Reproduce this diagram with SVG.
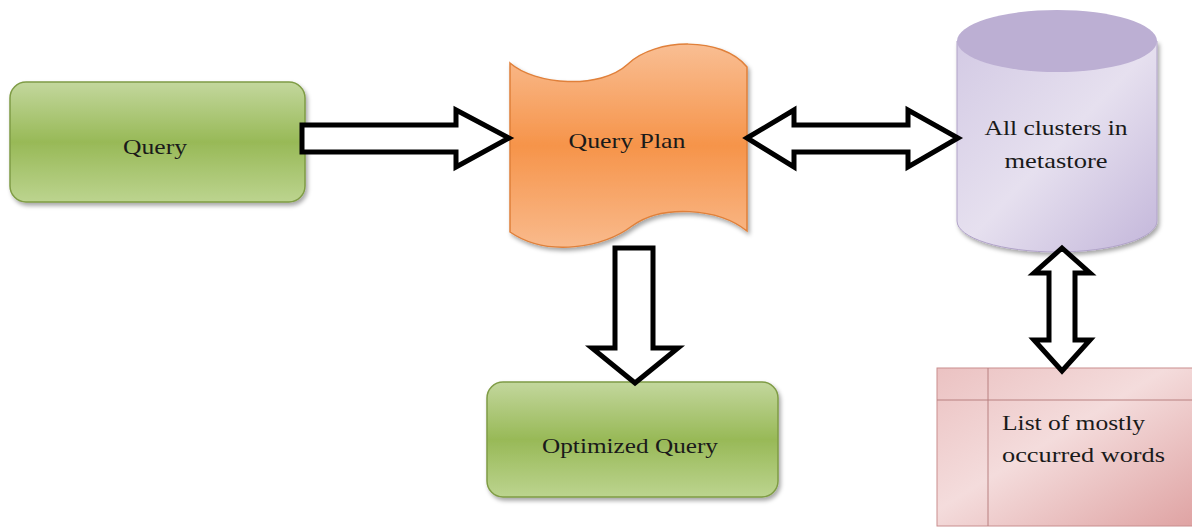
<svg xmlns="http://www.w3.org/2000/svg" width="1192" height="529" viewBox="0 0 1192 529">
<defs>
<linearGradient id="gGreen" x1="0" y1="0" x2="0" y2="1">
<stop offset="0" stop-color="#c3d79d"/>
<stop offset="0.5" stop-color="#98b957"/>
<stop offset="1" stop-color="#bcd48f"/>
</linearGradient>
<linearGradient id="gOrange" x1="0" y1="0" x2="0" y2="1">
<stop offset="0" stop-color="#f9be93"/>
<stop offset="0.5" stop-color="#f6944a"/>
<stop offset="1" stop-color="#f9ba8c"/>
</linearGradient>
<linearGradient id="gPurpleBody" x1="0" y1="0" x2="1" y2="1">
<stop offset="0" stop-color="#d3cae4"/>
<stop offset="0.5" stop-color="#e6e0ef"/>
<stop offset="1" stop-color="#c3b6da"/>
</linearGradient>
<linearGradient id="gPink" x1="0" y1="0" x2="1" y2="1">
<stop offset="0" stop-color="#ebc2c2"/>
<stop offset="0.45" stop-color="#f4dcdc"/>
<stop offset="1" stop-color="#dfa3a3"/>
</linearGradient>
<filter id="sh" x="-10%" y="-10%" width="120%" height="130%">
<feDropShadow dx="2" dy="3" stdDeviation="2" flood-color="#000" flood-opacity="0.35"/>
</filter>
</defs>
<style>
.lbl{font-family:"Liberation Serif","DejaVu Serif",serif;font-size:21px;fill:#1a1a1a}
.arrow{fill:#fff;stroke:#000;stroke-width:5;stroke-linejoin:miter}
.gbox{fill:url(#gGreen);stroke:#7f9c45;stroke-width:1.5}
</style>

<g id="query">
<rect class="gbox" x="10" y="82" width="295" height="120" rx="16" filter="url(#sh)"/>
<text class="lbl" x="155" y="154" text-anchor="middle" textLength="64" lengthAdjust="spacingAndGlyphs">Query</text>
</g>

<g id="query-plan">
<path d="M510,63 C535,85 600,90 628,64 C655,38 722,36 747,67 L747,231 C718,208 662,204 632,226 C604,247 548,258 510,232 Z" fill="url(#gOrange)" stroke="#e0803a" stroke-width="1.5" filter="url(#sh)"/>
<text class="lbl" x="627" y="148" text-anchor="middle" textLength="117" lengthAdjust="spacingAndGlyphs">Query Plan</text>
</g>

<g id="metastore">
<path d="M957,41 L957,221 A100,31 0 0 0 1157,221 L1157,41 Z" fill="url(#gPurpleBody)" stroke="#b0a2c8" stroke-width="1" filter="url(#sh)"/>
<ellipse cx="1057" cy="41" rx="100" ry="31" fill="#bcafd3"/>
<text class="lbl" x="1056" y="135" text-anchor="middle" textLength="143" lengthAdjust="spacingAndGlyphs">All clusters in</text>
<text class="lbl" x="1056" y="168" text-anchor="middle" textLength="103" lengthAdjust="spacingAndGlyphs">metastore</text>
</g>

<g id="optimized-query">
<rect class="gbox" x="487" y="382" width="291" height="115" rx="16" filter="url(#sh)"/>
<text class="lbl" x="630" y="453" text-anchor="middle" textLength="176" lengthAdjust="spacingAndGlyphs">Optimized Query</text>
</g>

<g id="word-list">
<rect x="937" y="368" width="256" height="158" fill="url(#gPink)" stroke="#c98e8e" stroke-width="1"/>
<line x1="988" y1="368" x2="988" y2="526" stroke="#b88080" stroke-width="1"/>
<line x1="937" y1="400" x2="1192" y2="400" stroke="#b88080" stroke-width="1"/>
<text class="lbl" x="1002" y="430" textLength="143" lengthAdjust="spacingAndGlyphs">List of mostly</text>
<text class="lbl" x="1002" y="462" textLength="163" lengthAdjust="spacingAndGlyphs">occurred words</text>
</g>

<g id="connectors">
<polygon class="arrow" points="302,125 456,125 456,110 509,138 456,167 456,152 302,152"/>
<polygon class="arrow" points="747,138 794,110 794,125 908,125 908,110 958,138 908,167 908,152 794,152 794,167"/>
<polygon class="arrow" points="615,248 653,248 653,348 678,348 635,383 592,348 615,348"/>
<polygon class="arrow" points="1062,248 1090,273 1075,273 1075,340 1090,340 1062,371 1034,340 1049,340 1049,273 1034,273"/>
</g>
</svg>
